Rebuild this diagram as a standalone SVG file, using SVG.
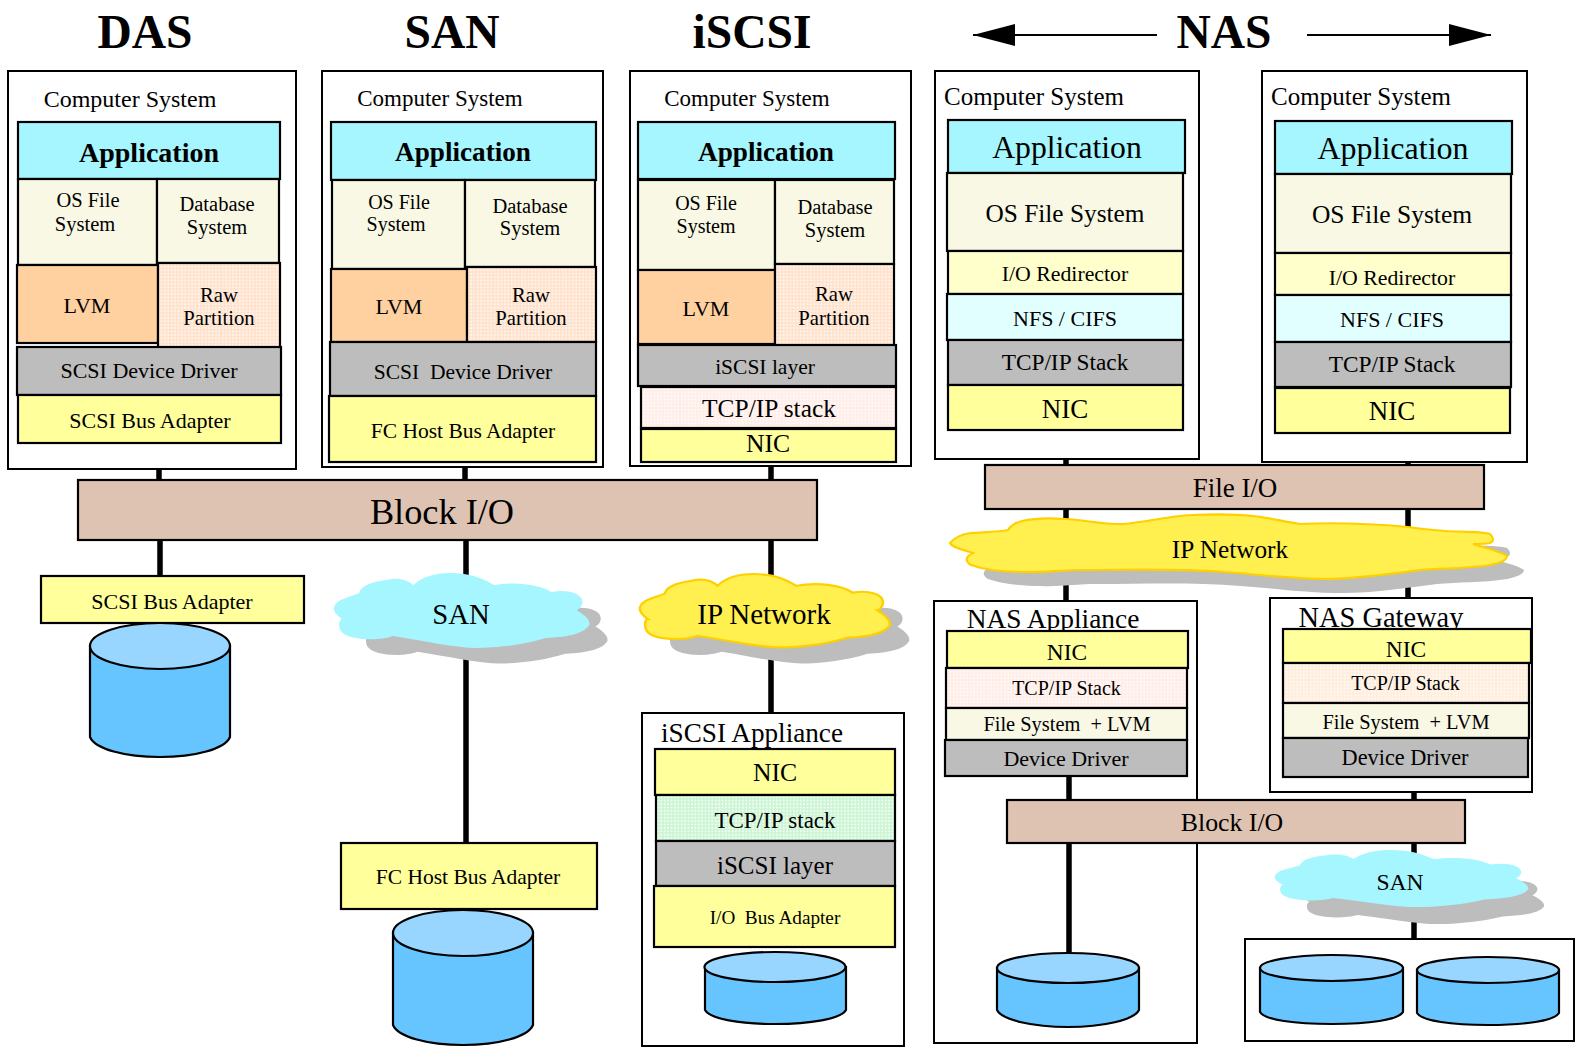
<svg xmlns="http://www.w3.org/2000/svg" width="1575" height="1053" viewBox="0 0 1575 1053">
<style>
text{font-family:"Liberation Serif","Times New Roman",serif;fill:#000;text-anchor:middle;white-space:pre}
.t{font-weight:bold;font-size:47.500px}
.box{fill:none;stroke:#000;stroke-width:2}
rect.b{stroke:#000;stroke-width:2.2}
.app{fill:#a6f6ff}.os{fill:#f8f8e4}.lvm{fill:#ffd0a0}.raw{fill:url(#pRaw)}.gr{fill:#bdbdbd}.ye{fill:#ffff9c}.yl{fill:#ffffcc}.br{fill:#dfc3b2}.pk{fill:url(#pPink)}.og{fill:url(#pRaw2)}.nf{fill:#e2ffff}.gn{fill:url(#pGreen)}
.con{stroke:#000;stroke-width:5.500;fill:none}
.arr{stroke:#000;stroke-width:2;fill:none}
.cy{fill:#66c4ff;stroke:#000;stroke-width:2.2}
.ct{fill:#99d6ff;stroke:#000;stroke-width:2.2}
.sh{fill:#bdbdbd}
.cb{fill:#a6f6ff}
.cg{fill:#fff04f;stroke:#ffd000;stroke-width:2.2;vector-effect:non-scaling-stroke}
.s28{font-size:28px;font-weight:bold}
.s27{font-size:27.200px;font-weight:bold}
</style>
<defs>
<pattern id="pRaw" patternUnits="userSpaceOnUse" width="3.4" height="3.4"><rect width="3.4" height="3.4" fill="#ffe2cc"/><circle cx="1.7" cy="1.7" r="1" fill="#fff6ee"/></pattern>
<pattern id="pRaw2" patternUnits="userSpaceOnUse" width="3.4" height="3.4"><rect width="3.4" height="3.4" fill="#ffeedd"/><circle cx="1.7" cy="1.7" r="1" fill="#fffaf4"/></pattern>
<pattern id="pPink" patternUnits="userSpaceOnUse" width="3.4" height="3.4"><rect width="3.4" height="3.4" fill="#ffeee8"/><circle cx="1.7" cy="1.7" r="1" fill="#fffafa"/></pattern>
<pattern id="pGreen" patternUnits="userSpaceOnUse" width="3.4" height="3.4"><rect width="3.4" height="3.4" fill="#ccf5d4"/><circle cx="1.7" cy="1.7" r="1" fill="#f2fff4"/></pattern>
<path id="cloud" d="M0 34C2 26 12 25 22 20C24 10 40 8 50 6C58 5 65 8 69 12C77 3 90 0 101 0C116 0 128 4 139 12C160 8 180 12 189 19C204 16 216 21 216 29C216 34 212 37 211 37C218 42 223 47 222 52C218 60 205 64 184 65C165 72 140 75 125 75C105 75 80 68 51 63C40 68 12 68 6 58C3 52 5 46 7 46C2 42-1 38 0 34Z"/>
<path id="wide" d="M950 543C955 537 962 534 971 533C985 532 998 532 1008 530C1012 524 1018 522 1022 521C1035 518 1050 518 1065 519C1085 520 1105 525 1124 524C1145 522 1170 516 1192 515C1215 514 1235 514 1253 516C1272 518 1285 522 1300 524C1340 522 1375 524 1408 527C1420 529 1432 530 1445 531C1460 532 1480 531 1490 534C1494 538 1494 541 1490 543C1485 544 1478 544 1473 544C1485 548 1500 551 1507 556C1507 560 1500 563 1490 565C1465 569 1440 568 1420 570C1390 574 1355 579 1326 579C1290 579 1255 574 1224 572C1175 568 1125 570 1081 570C1060 570 1040 573 1024 572C1005 572 985 570 971 565C965 561 965 557 973 553C965 550 952 548 950 543Z"/>
<marker id="head" markerUnits="userSpaceOnUse" markerWidth="44" markerHeight="24" refX="42" refY="12" orient="auto-start-reverse"><path d="M0 1L42 12L0 23Z" fill="#000"/></marker>
</defs>

<g id="titles">
<text class="t" x="145" y="48">DAS</text>
<text class="t" x="452" y="48">SAN</text>
<text class="t" x="752" y="48">iSCSI</text>
<text class="t" x="1224" y="48">NAS</text>
</g>

<g id="connectors">
<path class="arr" marker-start="url(#head)" d="M973 35H1157"/>
<path class="arr" marker-end="url(#head)" d="M1307 35H1491"/>
<path class="con" d="M159 469V480M160 540V576M465 467V480M466 540V843M771 466V480M771 540V713M1066 459V465M1066 509V601M1408 462V465M1408 509V598M1069 776V952M1414 792V939"/>
</g>

<g id="das-computer">
<rect class="box" x="8" y="71" width="288" height="398" fill="none"/>
<text x="130" y="107" font-size="24">Computer System</text>
<rect class="b app" x="18" y="122" width="262" height="57"/><text class="s28" x="149" y="162">Application</text>
<rect class="b os" x="18" y="179" width="139" height="86"/><text x="88" y="207" font-size="20.5">OS File</text><text x="85" y="231" font-size="20.5">System</text>
<rect class="b os" x="157" y="179" width="122" height="84"/><text x="217" y="211" font-size="20.5">Database</text><text x="217" y="234" font-size="20.5">System</text>
<rect class="b lvm" x="17" y="265" width="141" height="78"/><text x="87" y="313" font-size="22">LVM</text>
<rect class="b raw" x="158" y="263" width="122" height="85"/><text x="219" y="302" font-size="20.7">Raw</text><text x="219" y="325" font-size="20.7">Partition</text>
<rect class="b gr" x="17" y="347" width="264" height="48"/><text x="149" y="378" font-size="22">SCSI Device Driver</text>
<rect class="b ye" x="18" y="395" width="263" height="48"/><text x="150" y="428" font-size="22">SCSI Bus Adapter</text>
</g>

<g id="san-computer">
<rect class="box" x="322" y="71" width="281" height="396"/>
<text x="440" y="106" font-size="23">Computer System</text>
<rect class="b app" x="331" y="122" width="265" height="58"/><text class="s27" x="463" y="161">Application</text>
<rect class="b os" x="332" y="180" width="133" height="89"/><text x="399" y="209" font-size="20">OS File</text><text x="396" y="231" font-size="20">System</text>
<rect class="b os" x="465" y="180" width="130" height="87"/><text x="530" y="213" font-size="20.5">Database</text><text x="530" y="235" font-size="20.5">System</text>
<rect class="b lvm" x="331" y="269" width="136" height="73"/><text x="399" y="314" font-size="22">LVM</text>
<rect class="b raw" x="467" y="267" width="129" height="75"/><text x="531" y="302" font-size="20.7">Raw</text><text x="531" y="325" font-size="20.7">Partition</text>
<rect class="b gr" x="330" y="342" width="266" height="54"/><text x="463" y="379" font-size="21.5">SCSI  Device Driver</text>
<rect class="b ye" x="329" y="396" width="267" height="66"/><text x="463" y="438" font-size="21.5">FC Host Bus Adapter</text>
</g>

<g id="iscsi-computer">
<rect class="box" x="630" y="71" width="281" height="395"/>
<text x="747" y="106" font-size="23">Computer System</text>
<rect class="b app" x="638" y="122" width="257" height="57"/><text class="s27" x="766" y="161">Application</text>
<rect class="b os" x="638" y="180" width="137" height="90"/><text x="706" y="210" font-size="20">OS File</text><text x="706" y="233" font-size="20">System</text>
<rect class="b os" x="775" y="180" width="119" height="84"/><text x="835" y="214" font-size="20.5">Database</text><text x="835" y="237" font-size="20.5">System</text>
<rect class="b lvm" x="638" y="270" width="137" height="74"/><text x="706" y="316" font-size="22">LVM</text>
<rect class="b raw" x="775" y="264" width="119" height="82"/><text x="834" y="301" font-size="20.7">Raw</text><text x="834" y="325" font-size="20.7">Partition</text>
<rect class="b gr" x="638" y="345" width="258" height="41"/><text x="765" y="374" font-size="21.5">iSCSI layer</text>
<rect class="b pk" x="641" y="387" width="255" height="41"/><text x="769" y="417" font-size="25.4">TCP/IP stack</text>
<rect class="b ye" x="641" y="429" width="255" height="33"/><text x="768" y="452" font-size="25.7">NIC</text>
</g>

<g id="nas-computer-1">
<rect class="box" x="935" y="71" width="264" height="388"/>
<text x="1034" y="105" font-size="25">Computer System</text>
<rect class="b app" x="948" y="120" width="237" height="53"/><text x="1067" y="158" font-size="31.7">Application</text>
<rect class="b os" x="947" y="173" width="236" height="78"/><text x="1065" y="222" font-size="25.3">OS File System</text>
<rect class="b yl" x="948" y="251" width="235" height="43"/><text x="1065" y="281" font-size="21.8">I/O Redirector</text>
<rect class="b nf" x="947" y="294" width="236" height="46"/><text x="1065" y="326" font-size="22">NFS / CIFS</text>
<rect class="b gr" x="948" y="340" width="235" height="45"/><text x="1065" y="370" font-size="23.3">TCP/IP Stack</text>
<rect class="b ye" x="948" y="385" width="235" height="45"/><text x="1065" y="418" font-size="27">NIC</text>
</g>

<g id="nas-computer-2">
<rect class="box" x="1262" y="71" width="265" height="391"/>
<text x="1361" y="105" font-size="25">Computer System</text>
<rect class="b app" x="1275" y="121" width="237" height="53"/><text x="1393" y="159" font-size="32">Application</text>
<rect class="b os" x="1275" y="174" width="236" height="79"/><text x="1392" y="223" font-size="25.5">OS File System</text>
<rect class="b yl" x="1275" y="253" width="236" height="42"/><text x="1392" y="285" font-size="21.8">I/O Redirector</text>
<rect class="b nf" x="1275" y="295" width="236" height="47"/><text x="1392" y="327" font-size="22">NFS / CIFS</text>
<rect class="b gr" x="1275" y="342" width="236" height="45"/><text x="1392" y="372" font-size="23.3">TCP/IP Stack</text>
<rect class="b ye" x="1275" y="388" width="235" height="45"/><text x="1392" y="420" font-size="27">NIC</text>
</g>

<g id="block-io"><rect class="b br" x="78" y="480" width="739" height="60"/><text x="442" y="524" font-size="36.300">Block I/O</text></g>
<g id="file-io"><rect class="b br" x="985" y="465" width="499" height="44"/><text x="1235" y="497" font-size="27">File I/O</text></g>

<g id="ip-network-wide">
<use href="#wide" class="sh" transform="translate(17 14)"/>
<use href="#wide" class="cg"/>
<text x="1230" y="558" font-size="25.300">IP Network</text>
</g>

<g id="scsi-adapter"><rect class="b ye" x="41" y="576" width="263" height="47"/><text x="172" y="609" font-size="22">SCSI Bus Adapter</text></g>
<g id="das-disk">
<path class="cy" d="M90 646V737C95 749 125 757 160 757C195 757 225 749 230 737V646Z"/>
<ellipse class="ct" cx="160" cy="646" rx="70" ry="23"/>
</g>

<g id="san-cloud">
<use href="#cloud" class="sh" transform="translate(361 590) scale(1.11 .98)"/>
<use href="#cloud" class="cb" transform="translate(334 573) scale(1.15 1)"/>
<text x="461" y="624" font-size="28.7">SAN</text>
</g>
<g id="fc-adapter"><rect class="b ye" x="341" y="843" width="256" height="66"/><text x="468" y="884" font-size="21.500">FC Host Bus Adapter</text></g>
<g id="san-disk">
<path class="cy" d="M393 933V1025C398 1037 428 1045 463 1045C498 1045 528 1037 533 1025V933Z"/>
<ellipse class="ct" cx="463" cy="933" rx="70" ry="23"/>
</g>

<g id="ip-cloud">
<use href="#cloud" class="sh" transform="translate(665 590) scale(1.1 .98)"/>
<use href="#cloud" class="cg" transform="translate(640 574) scale(1.125 .98)"/>
<text x="764" y="624" font-size="29">IP Network</text>
</g>

<g id="iscsi-appliance">
<rect class="box" x="642" y="713" width="262" height="333"/>
<text x="752" y="742" font-size="27.2">iSCSI Appliance</text>
<rect class="b ye" x="655" y="749" width="240" height="46"/><text x="775" y="781" font-size="25.7">NIC</text>
<rect class="b gn" x="656" y="795" width="239" height="46"/><text x="775" y="828" font-size="23">TCP/IP stack</text>
<rect class="b gr" x="656" y="841" width="239" height="45"/><text x="775" y="874" font-size="25">iSCSI layer</text>
<rect class="b ye" x="654" y="886" width="241" height="61"/><text x="775" y="924" font-size="19.2">I/O  Bus Adapter</text>
<path class="cy" d="M705 967V1010C710 1019 740 1024 775 1024C810 1024 841 1019 846 1010V967Z"/>
<ellipse class="ct" cx="775" cy="967" rx="70.500" ry="15"/>
</g>

<g id="nas-appliance">
<rect class="box" x="934" y="601" width="263" height="442"/>
<text x="1053" y="628" font-size="27.4">NAS Appliance</text>
<rect class="b ye" x="947" y="631" width="241" height="37"/><text x="1067" y="660" font-size="23.4">NIC</text>
<rect class="b pk" x="946" y="668" width="241" height="40"/><text x="1066.500" y="695" font-size="20">TCP/IP Stack</text>
<rect class="b os" x="946" y="708" width="241" height="32"/><text x="1067" y="731" font-size="20.4">File System  + LVM</text>
<rect class="b gr" x="945" y="740" width="242" height="36"/><text x="1066" y="766" font-size="22">Device Driver</text>
<path class="cy" d="M997 968V1010C1002 1020 1033 1027 1068 1027C1103 1027 1134 1020 1139 1010V968Z"/>
<ellipse class="ct" cx="1068" cy="968" rx="71" ry="15"/>
</g>

<g id="nas-gateway">
<rect class="box" x="1270" y="598" width="262" height="194"/>
<text x="1381" y="627" font-size="28.4">NAS Gateway</text>
<rect class="b ye" x="1283" y="629" width="248" height="34"/><text x="1406" y="657" font-size="23.4">NIC</text>
<rect class="b og" x="1283" y="663" width="246" height="40"/><text x="1405.500" y="690" font-size="20">TCP/IP Stack</text>
<rect class="b os" x="1283" y="703" width="246" height="35"/><text x="1406" y="729" font-size="20.4">File System  + LVM</text>
<rect class="b gr" x="1283" y="738" width="245" height="39"/><text x="1405" y="765" font-size="22.3">Device Driver</text>
</g>

<g id="nas-block-io"><rect class="b br" x="1007" y="800" width="458" height="43"/><text x="1232" y="831" font-size="25.800">Block I/O</text></g>

<g id="san-cloud-small">
<use href="#cloud" class="sh" transform="translate(1302 867) scale(1.09 .76)"/>
<use href="#cloud" class="cb" transform="translate(1275 850) scale(1.14 .76)"/>
<text x="1400" y="890" font-size="23.6">SAN</text>
</g>

<g id="disk-array">
<rect class="box" x="1245" y="939" width="329" height="102"/>
<path class="cy" d="M1260 968V1012C1265 1020 1295 1024 1332 1024C1369 1024 1398 1020 1403 1012V968Z"/>
<ellipse class="ct" cx="1331.500" cy="968" rx="71.500" ry="13"/>
<path class="cy" d="M1417 970V1013C1422 1021 1452 1025 1488 1025C1525 1025 1554 1021 1559 1013V970Z"/>
<ellipse class="ct" cx="1488" cy="970" rx="71" ry="13"/>
</g>
</svg>
